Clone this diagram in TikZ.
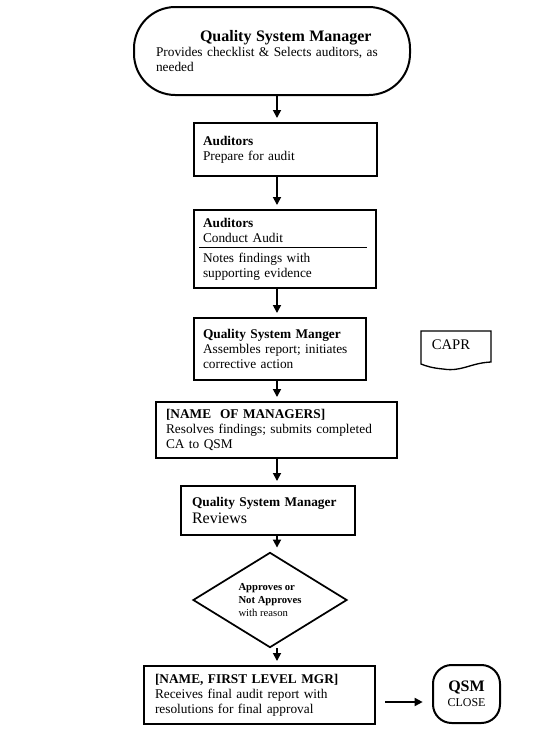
\documentclass[tikz,border=0pt]{standalone}
\usepackage{fontspec}
\setmainfont{Liberation Serif}
\usetikzlibrary{shapes.geometric,arrows.meta,calc}
\def\pxu{0.75pt}
\begin{document}
\begin{tikzpicture}[x=0.75pt,y=-0.75pt,
  box/.style={draw,line width=1.5pt,align=left,inner sep=0pt,font=\fontsize{10}{11.25}\selectfont},
  arr/.style={line width=1.3pt,-{Triangle[length=6pt,width=6pt]},shorten >=3pt}]
\useasboundingbox (0,0) rectangle (543,733);
\fill[white] (0,0) rectangle (543,733);
\coordinate (axis) at (277,0);
% top stadium
\node[box, rounded corners=31pt, minimum width=276*\pxu, minimum height=88*\pxu, text width=232*\pxu]
  (top) at (272,51) {\hspace*{33pt}{\fontsize{12}{14}\selectfont\bfseries Quality System Manager}\\Provides checklist \& Selects auditors, as\\needed};
% boxes
\node[box, minimum width=183*\pxu, minimum height=53*\pxu, text width=165*\pxu]
  (b1) at (285.5,149.5) {\textbf{Auditors}\\Prepare for audit};
\node[box, minimum width=182*\pxu, minimum height=78*\pxu, text width=164*\pxu]
  (b2) at (285,249) {\textbf{Auditors}\\Conduct Audit\\[3.5pt]Notes findings with\\supporting evidence};
\draw[line width=0.8pt] ($(b2.north west)+(6,38.5)$) -- ($(b2.north east)+(-10,38.5)$);
\node[box, minimum width=172*\pxu, minimum height=62*\pxu, text width=154*\pxu]
  (b3) at (280,349) {\textbf{Quality System Manger}\\Assembles report; initiates\\corrective action};
\node[box, minimum width=241*\pxu, minimum height=56*\pxu, text width=221*\pxu]
  (b4) at (276.5,430) {\textbf{[NAME\ \ OF MANAGERS]}\\Resolves findings; submits completed\\CA to QSM};
\node[box, minimum width=174*\pxu, minimum height=49*\pxu, text width=152*\pxu]
  (b5) at (268,510.5) {\textbf{Quality System Manager}\\[1pt]{\fontsize{12}{13}\selectfont Reviews}};
\node[draw, diamond, line width=1.3pt, inner sep=0pt, minimum width=154*\pxu, minimum height=85*\pxu,
  align=left, font=\fontsize{8}{9.4}\selectfont]
  (d) at (270,600) {\textbf{Approves or}\\\textbf{Not Approves}\\with reason};
\node[box, minimum width=231*\pxu, minimum height=58*\pxu, text width=209*\pxu]
  (b6) at (259.5,695) {\textbf{[NAME, FIRST LEVEL MGR]}\\Receives final audit report with\\resolutions for final approval};
\node[box, rounded corners=14pt, minimum width=67*\pxu, minimum height=58*\pxu, align=center]
  (qsm) at (466.5,694) {{\fontsize{12}{14}\selectfont\bfseries QSM}\\{\fontsize{9}{11}\selectfont CLOSE}};
% CAPR document
\node[inner sep=0pt, font=\fontsize{11}{13}\selectfont] (capr) at (451,345) {CAPR};
\draw[line width=1pt] (421,331) -- (491,331) -- (491,362)
  .. controls (470,363) and (462,372) .. (443,369)
  .. controls (432,368) and (426,366) .. (421,364) -- cycle;
% arrows
\draw[arr] (top.south -| axis) -- (b1.north -| axis);
\draw[arr] (b1.south -| axis) -- (b2.north -| axis);
\draw[arr] (b2.south -| axis) -- (b3.north -| axis);
\draw[arr] (b3.south -| axis) -- (b4.north -| axis);
\draw[arr] (b4.south -| axis) -- (b5.north -| axis);
\draw[arr] (b5.south -| axis) -- (d.north -| axis);
\draw[arr] (d.south -| axis) -- (b6.north -| axis);
\draw[arr, shorten <=7pt, shorten >=7pt] ($(b6.east)+(0,7)$) -- ($(qsm.west)+(0,8)$);
\end{tikzpicture}
\end{document}
